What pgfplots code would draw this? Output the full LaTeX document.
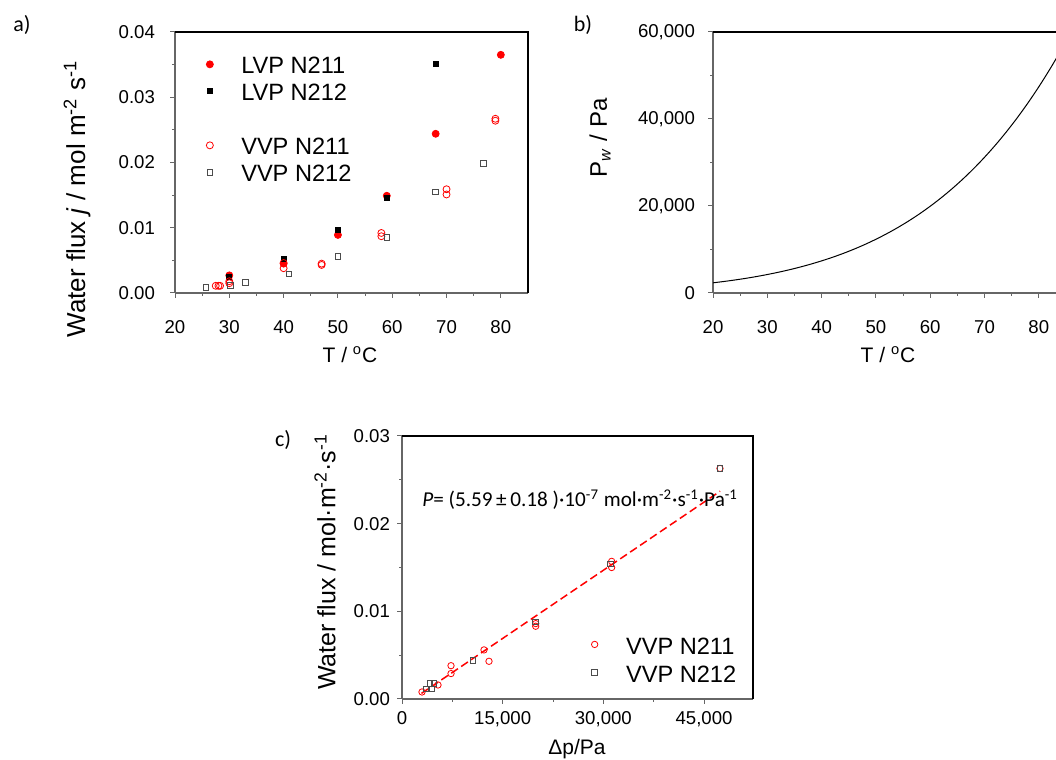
\documentclass[border=0pt]{standalone}
\usepackage{pgfplots}
\pgfplotsset{compat=1.18}
\usepackage{fontspec}
\setmainfont{Liberation Sans}
\newfontfamily\calibri{Carlito}

\pgfplotsset{
 panel/.style={
  scale only axis, anchor=south west,
  axis lines=left, axis line style={-, draw=black!60, line width=0.6pt},
  tick align=outside, tick style={black!60, line width=0.5pt},
  major tick length=2.5pt, minor tick length=1.5pt,
  minor tick num=1,
  tick label style={font=\fontsize{9.3}{11}\selectfont},
  /pgf/number format/assume math mode=true,
  /pgf/number format/1000 sep={,},
 },
 lgd/.style={legend cell align=left,
  legend image code/.code={\path (0pt,0pt) (19pt,0pt); \draw[##1] plot coordinates {(4.5pt,2pt)};},
  legend style={draw=none, fill=none, anchor=north west, inner sep=0pt, row sep=0pt,
   font=\fontsize{11.8}{13}\selectfont,
   nodes={inner sep=1pt, text height=8.5pt, text depth=3pt}}},
}

\pgfplotstableread{
x y
30 0.0027
40 0.0045
50 0.0089
59 0.0149
68 0.0244
80 0.0365
}\lvpA
\pgfplotstableread{
x y
30 0.0024
40 0.0052
50 0.0096
59 0.0145
68 0.0351
}\lvpB
\pgfplotstableread{
x y
27.5 0.0011
28.0 0.0011
28.3 0.0011
30 0.0018
30 0.0015
40 0.0038
40 0.0046
47 0.0045
47 0.0043
58 0.0092
58 0.0087
70 0.0159
70 0.0151
79 0.0267
79 0.0264
}\vvpA
\pgfplotstableread{
x y
25.7 0.0009
30.2 0.0012
33 0.0016
41 0.0029
50 0.0056
59 0.0085
68 0.0155
76.8 0.0199
}\vvpB
\pgfplotstableread{
T p
20 2339
22 2645
24 2985
26 3363
28 3782
30 4246
32 4759
34 5324
36 5947
38 6632
40 7384
42 8205
44 9107
46 10094
48 11172
50 12352
52 13631
54 15022
56 16533
58 18171
60 19946
62 21867
64 23943
66 26183
68 28599
70 31201
72 34000
74 37009
76 40239
78 43703
80 47414
82 51387
84 55635
86 60174
}\psat
\pgfplotstableread{
x y
2980 0.0008
5364 0.0016
7301 0.0038
7301 0.0029
12218 0.0056
12963 0.0043
19920 0.0083
19920 0.0086
31240 0.0157
31240 0.0150
47380 0.0263
}\cA
\pgfplotstableread{
x y
3576 0.00114
4470 0.00114
4172 0.0018
4768 0.0018
10580 0.0044
19920 0.0088
31090 0.0154
47380 0.0263
}\cB
\pgfplotstableread{
x y
2900 0.00064
47400 0.0237
}\cfit

\begin{document}
\begin{tikzpicture}
\useasboundingbox (0,0) rectangle (528pt,380pt);

% ---------- panel a ----------
\begin{axis}[panel, lgd, name=pa, at={(87.5pt,233.5pt)},
  width=176.5pt, height=130.5pt,
  xmin=20, xmax=85, ymin=0, ymax=0.04,
  xtick={20,30,...,80}, ytick={0,0.01,...,0.04},
  scaled y ticks=false,
  yticklabel style={xshift=-4pt, /pgf/number format/.cd, fixed, fixed zerofill, precision=2},
  xticklabel style={yshift=-7.5pt},
  legend style={at={(0.071,0.914)}},
]
\addplot[only marks, mark=*, mark size=1.75pt, red, mark options={fill=red}] table {\lvpA};
\addlegendentry{LVP N211}
\addplot[only marks, mark=square*, mark size=1.25pt, black, mark options={fill=black}] table {\lvpB};
\addlegendentry{LVP N212}
\addlegendimage{empty legend}
\addlegendentry{}
\addplot[only marks, mark=o, mark size=1.75pt, red, mark options={line width=0.4pt}] table {\vvpA};
\addlegendentry{VVP N211}
\addplot[only marks, mark=square, mark size=1.4pt, black!70, mark options={line width=0.4pt}] table {\vvpB};
\addlegendentry{VVP N212}
\end{axis}
\draw[black, line width=0.6pt] (pa.north west) -- (pa.north east) -- (pa.south east);

% ---------- panel b ----------
\begin{axis}[panel, name=pb, at={(356.5pt,233.5pt)},
  width=176.5pt, height=130.5pt,
  xmin=20, xmax=85, ymin=0, ymax=60000,
  xtick={20,30,...,80}, ytick={0,20000,40000,60000},
  scaled y ticks=false,
  yticklabel style={xshift=-3pt},
  xticklabel style={yshift=-7.5pt},
]
\addplot[black, line width=0.5pt, smooth] table {\psat};
\end{axis}
\draw[black, line width=0.6pt] (pb.north west) -- (pb.north east);

% ---------- panel c ----------
\begin{axis}[panel, lgd, name=pc, at={(201pt,30.5pt)},
  width=175.5pt, height=131.5pt,
  xmin=0, xmax=52300, ymin=0, ymax=0.03,
  xtick={0,15000,30000,45000}, ytick={0,0.01,0.02,0.03},
  scaled y ticks=false, scaled x ticks=false,
  yticklabel style={/pgf/number format/.cd, fixed, fixed zerofill, precision=2},
  legend style={at={(0.521,0.247)}, nodes={text height=8.8pt, text depth=3.2pt}},
]
\addplot[red, line width=0.75pt, dash pattern=on 4pt off 2pt, forget plot] table {\cfit};
\addplot[only marks, mark=o, mark size=1.6pt, red, mark options={line width=0.4pt}] table {\cA};
\addlegendentry{VVP N211}
\addplot[only marks, mark=square, mark size=1.4pt, black!70, mark options={line width=0.4pt}] table {\cB};
\addlegendentry{VVP N212}
\end{axis}
\draw[black, line width=0.6pt] (pc.north west) -- (pc.north east) -- (pc.south east);

% ---------- labels ----------
\node[font=\calibri\fontsize{11}{13}\selectfont] at (11pt,367.5pt) {a)};
\node[font=\calibri\fontsize{11}{13}\selectfont] at (291.5pt,367.5pt) {b)};
\node[font=\calibri\fontsize{11}{13}\selectfont] at (141.5pt,160pt) {c)};

\node[rotate=90, font=\fontsize{13}{15}\selectfont] at (38.5pt,280.5pt)
  {Water flux \textit{j} / mol m\textsuperscript{-2} s\textsuperscript{-1}};
\node[font=\fontsize{10.5}{12}\selectfont] at (175pt,202.5pt) {T / \textsuperscript{o}C};
\node[font=\fontsize{10.5}{12}\selectfont] at (444pt,202.5pt) {T / \textsuperscript{o}C};
\node[rotate=90, font=\fontsize{12}{14}\selectfont] at (300pt,311pt)
  {P\textsubscript{\textit{w}} / Pa};
\node[font=\fontsize{10.5}{12}\selectfont] at (288.5pt,5.5pt) {Δp/Pa};
\node[rotate=90, font=\fontsize{12.5}{15}\selectfont] at (162.5pt,99pt)
  {Water flux / mol·m\textsuperscript{-2}·s\textsuperscript{-1}};
\node[anchor=base west, inner sep=0pt, font=\calibri\fontsize{10.6}{13}\selectfont] at (211pt,126.5pt)
  {\textit{P}= (5.59\,±\,0.18 )·10\textsuperscript{-7} mol·m\textsuperscript{-2}·s\textsuperscript{-1}·Pa\textsuperscript{-1}};
\end{tikzpicture}
\end{document}
